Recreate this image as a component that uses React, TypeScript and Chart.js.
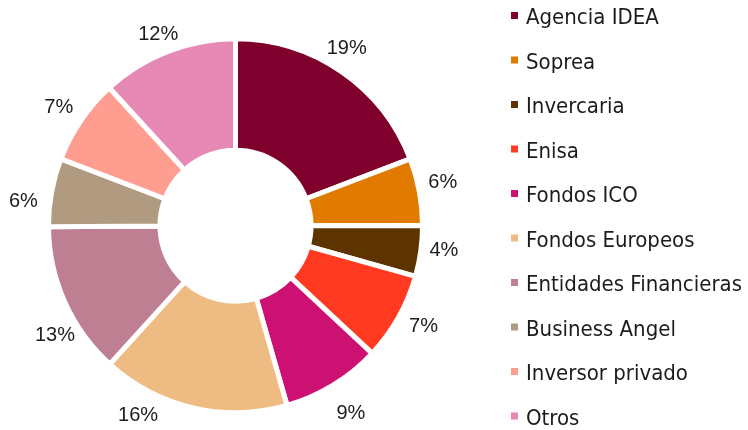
import React, { useEffect, useRef } from 'react';
import { Chart, registerables } from 'chart.js';

Chart.register(...registerables);

const categories = [
  'Agencia IDEA',
  'Soprea',
  'Invercaria',
  'Enisa',
  'Fondos ICO',
  'Fondos Europeos',
  'Entidades Financieras',
  'Business Angel',
  'Inversor privado',
  'Otros',
];

const shares = [19.2, 5.8, 4.4, 7.6, 8.6, 16.2, 13.2, 5.9, 7.4, 11.8];

const shareLabels = ['19%', '6%', '4%', '7%', '9%', '16%', '13%', '6%', '7%', '12%'];

const sliceColors = [
  '#7F002D',
  '#E07B00',
  '#5D3300',
  '#FF3A20',
  '#CC1172',
  '#EEBC82',
  '#BE7F93',
  '#B19B80',
  '#FF9D90',
  '#E689B5',
];

// label placement tweaks (degrees / px) to mirror the reference layout
const labelAngleNudge = [-2.7, -1.6, -1.4, -1.6, -0.3, 14.3, -7, -3.3, 0, -0.6];
const labelPad = [9.4, 11.7, 10, 11.7, 20.5, 11, 5, 14, 13, 9];

const BORDER = 5;

const pctLabelPlugin = {
  id: 'pctLabels',
  afterDatasetsDraw(chart: any) {
    const meta = chart.getDatasetMeta(0);
    const ctx = chart.ctx;
    ctx.save();
    ctx.font = '20px "Liberation Sans Narrow", "Liberation Sans", sans-serif';
    ctx.fillStyle = '#1c1c1c';
    ctx.textAlign = 'center';
    ctx.textBaseline = 'alphabetic';
    const capH = 14.3;
    meta.data.forEach((arc: any, i: number) => {
      const p = arc.getProps(['x', 'y', 'startAngle', 'endAngle', 'outerRadius'], true);
      const a = (p.startAngle + p.endAngle) / 2 + (labelAngleNudge[i] * Math.PI) / 180;
      const ux = Math.cos(a);
      const uy = Math.sin(a);
      const text = shareLabels[i];
      const w = ctx.measureText(text).width;
      const ext = Math.abs(ux) * (w / 2) + Math.abs(uy) * (capH / 2 + 0.5);
      const d = p.outerRadius - BORDER / 2 + labelPad[i] + ext;
      ctx.fillText(text, p.x + ux * d, p.y + uy * d + capH / 2);
    });
    ctx.restore();
  },
};

const legendPlugin = {
  id: 'sideLegend',
  afterDraw(chart: any) {
    const ctx = chart.ctx;
    ctx.save();
    ctx.font = '22px "DejaVu Sans Condensed", "DejaVu Sans", sans-serif';
    ctx.textAlign = 'left';
    ctx.textBaseline = 'alphabetic';
    const boxX = 511;
    const textX = 526;
    const firstY = 16;
    const step = 44.5;
    categories.forEach((name, i) => {
      const cy = firstY + step * i;
      ctx.fillStyle = sliceColors[i];
      ctx.fillRect(boxX, cy - 4, 7, 7);
      ctx.fillStyle = '#1c1c1c';
      ctx.fillText(name, textX, cy + 8);
    });
    ctx.restore();
  },
};

export default function App() {
  const canvasRef = useRef<HTMLCanvasElement | null>(null);

  useEffect(() => {
    if (!canvasRef.current) return;
    const chart = new Chart(canvasRef.current, {
      type: 'doughnut',
      data: {
        labels: categories,
        datasets: [
          {
            data: shares,
            backgroundColor: sliceColors,
            borderColor: '#ffffff',
            borderWidth: BORDER,
            hoverOffset: 0,
          },
        ],
      },
      options: {
        responsive: false,
        animation: false,
        radius: 187,
        cutout: '40.4%',
        layout: { padding: { left: 0, right: 277, top: 21.5, bottom: 0 } },
        plugins: {
          legend: { display: false },
          tooltip: { enabled: false },
        },
      } as any,
      plugins: [pctLabelPlugin, legendPlugin],
    });
    return () => chart.destroy();
  }, []);

  return (
    <div style={{ position: 'fixed', left: 0, top: 0, width: 748, height: 430, background: '#fff' }}>
      <canvas ref={canvasRef} width={748} height={430} style={{ width: 748, height: 430, display: 'block' }} />
    </div>
  );
}
